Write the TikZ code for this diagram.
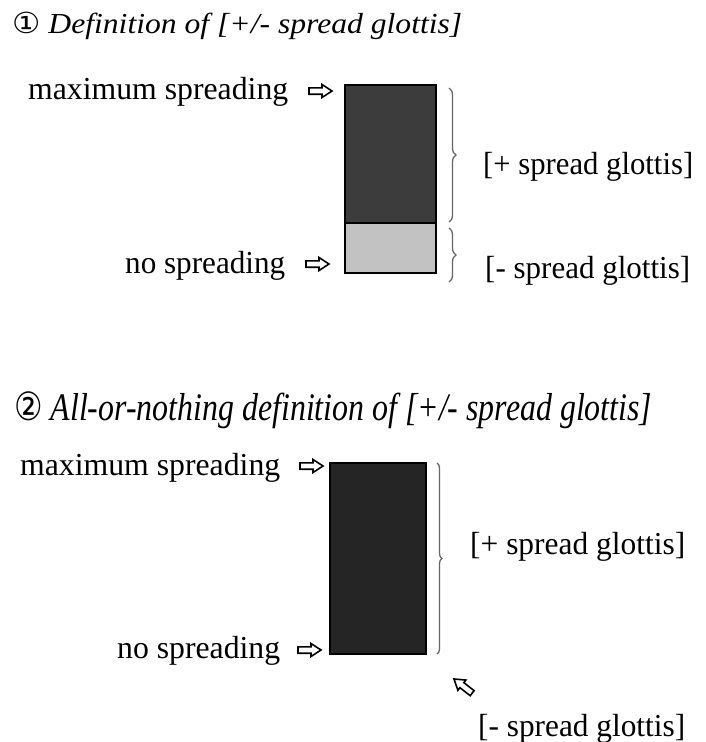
\documentclass[tikz,border=0pt]{standalone}
\usepackage{fontspec}
\usepackage{graphicx}
\setmainfont{Liberation Serif}
\newfontfamily\symfont{DejaVu Sans}
\usetikzlibrary{decorations.pathreplacing}
\newcommand\fw[2]{\resizebox{#1}{\height}{#2}}
\definecolor{darkA}{HTML}{3C3C3C}
\definecolor{lightA}{HTML}{C2C2C2}
\definecolor{darkB}{HTML}{252525}
\begin{document}
\begin{tikzpicture}[x=1pt,y=-1pt,
  lbl/.style={inner sep=0pt, anchor=base west, font=\fontsize{32}{32}\selectfont},
  ttl/.style={inner sep=0pt, anchor=base west},
  bar/.style={draw=black, line width=2pt, inner sep=0pt, anchor=north west},
  brc/.style={draw=black!60, line width=1.3pt, decorate, decoration={brace, amplitude=7pt}},
  harrow/.pic={\draw[line width=1.6pt, fill=white, line join=miter] (0,0) -- (-10,-6.5) -- (-10,-3.2) -- (-23,-3.2) -- (-23,3.2) -- (-10,3.2) -- (-10,6.5) -- cycle;}]
\useasboundingbox (0,0) rectangle (705,742);
\fill[white] (0,0) rectangle (705,742);

% titles
\node[ttl] (t1) at (12,33) {\fw{450pt}{\fontsize{29}{29}\selectfont{\symfont ①} \itshape Definition of [+/- spread glottis]}};
\node[ttl] (t2) at (14,420) {\fw{638pt}{\fontsize{39}{39}\selectfont{\symfont ②} \itshape All-or-nothing definition of [+/- spread glottis]}};

% figure 1
\node[bar, fill=lightA, minimum width=91pt, minimum height=50pt] (lo) at (344,222) {};
\node[bar, fill=darkA, minimum width=91pt, minimum height=138pt] (up) at (344,84) {};
\pic at (332,91) {harrow};
\pic at (329,264) {harrow};
\node[lbl] (max1) at (28,99) {\fw{260pt}{maximum spreading}};
\node[lbl] (no1) at (125,273) {\fw{160pt}{no spreading}};
\draw[brc] (449,88) -- (449,222);
\draw[brc] (449,228) -- (449,282);
\node[lbl] (plus1) at (483,174) {\fw{210pt}{[+ spread glottis]}};
\node[lbl] (minus1) at (485,278) {\fw{205pt}{[- spread glottis]}};

% figure 2
\node[bar, fill=darkB, line width=1.5pt, minimum width=96pt, minimum height=191pt] (bb) at (329,462) {};
\pic at (323,466) {harrow};
\pic at (321,650) {harrow};
\node[lbl] (max2) at (20,475) {\fw{260pt}{maximum spreading}};
\node[lbl] (no2) at (117,658) {\fw{163pt}{no spreading}};
\draw[brc, decoration={brace, amplitude=5pt}] (437,463) -- (437,654);
\node[lbl] (plus2) at (470,554) {\fw{215pt}{[+ spread glottis]}};
\pic[rotate=142] at (454,679) {harrow};
\node[lbl] (minus2) at (478,736) {\fw{207pt}{[- spread glottis]}};
\end{tikzpicture}
\end{document}
